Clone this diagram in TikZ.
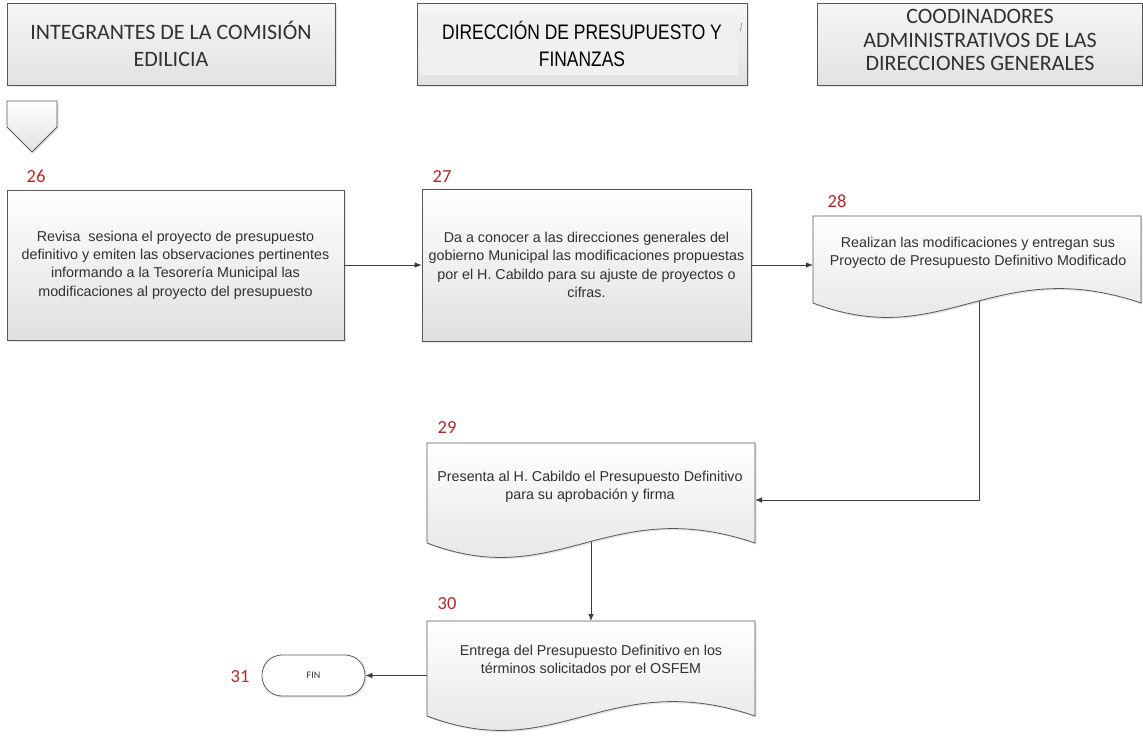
\documentclass[tikz,border=0pt]{standalone}
\usepackage{fontspec}
\setmainfont{Liberation Sans}
\newfontfamily\calfont{Carlito}
\newfontfamily\narrowfont[FakeStretch=0.83]{Liberation Sans}
\usetikzlibrary{arrows.meta,shadows}

\definecolor{stepred}{RGB}{176,42,42}
\definecolor{edge}{RGB}{88,88,88}
\definecolor{wire}{RGB}{60,60,60}
\definecolor{txt}{RGB}{48,48,48}
\definecolor{boxbot}{RGB}{224,224,224}
\definecolor{hdrtop}{RGB}{246,246,246}
\definecolor{hdrbot}{RGB}{226,226,226}
\definecolor{hdrinner}{RGB}{240,240,240}

\tikzset{
  softshadow/.style={drop shadow={shadow xshift=1.6pt,shadow yshift=-1.6pt,opacity=0.22}},
  lane/.style={draw=edge, line width=0.9pt, top color=hdrtop, bottom color=hdrbot,
    softshadow, inner sep=0pt, align=center},
  procbox/.style={draw=edge, line width=0.8pt, top color=white, bottom color=boxbot,
    softshadow, inner sep=0pt, align=center, text=txt,
    font=\fontsize{14.3}{18.3}\selectfont},
  docshape/.style={draw=edge, line width=0.8pt, top color=white, bottom color=boxbot,
    softshadow},
  doctext/.style={align=center, text=txt, inner sep=0pt,
    font=\fontsize{14.3}{18.3}\selectfont},
  stepnum/.style={text=stepred, inner sep=0pt, font=\calfont\fontsize{18.5}{20}\selectfont},
  flow/.style={draw=wire, line width=0.8pt, -{Latex[length=7pt,width=5.5pt]}},
  terminal/.style={draw=edge, line width=0.8pt, fill=white, rounded corners=20pt,
    minimum width=103pt, minimum height=41pt, softshadow, text=txt,
    font=\calfont\fontsize{10}{12}\selectfont}
}

\begin{document}
\begin{tikzpicture}[x=1pt, y=-1pt]
  \useasboundingbox (0,0) rectangle (1143,740);
  \fill[white] (0,0) rectangle (1143,740);

  % swimlane headers
  \node[lane, minimum width=328pt, minimum height=82pt, text=txt,
        font=\calfont\fontsize{22}{27}\selectfont] (h1) at (171,44)
        {INTEGRANTES DE LA COMISIÓN\\EDILICIA};
  \node[lane, minimum width=330pt, minimum height=82pt, text=black,
        font=\narrowfont\fontsize{21}{27}\selectfont,
        path picture={\fill[hdrinner]
          ([shift={(3,11)}]path picture bounding box.north west) rectangle
          ([shift={(-9,-10)}]path picture bounding box.south east);}]
        (h2) at (582,44) {DIRECCIÓN DE PRESUPUESTO Y\\FINANZAS};
  \draw[gray, line width=0.6pt] (741.5,23) -- (740.5,31);
  \node[lane, minimum width=325pt, minimum height=82pt, text=txt,
        font=\calfont\fontsize{22}{23.7}\selectfont,
        text depth=0pt] (h3) at (979.5,44) {};
  \node[text=txt, align=center, inner sep=0pt,
        font=\calfont\fontsize{22}{23.7}\selectfont] (h3text) at (980,40)
        {COODINADORES\\ADMINISTRATIVOS DE LAS\\DIRECCIONES GENERALES};

  % off-page connector
  \path[draw=edge, line width=0.8pt, top color=white, bottom color=hdrbot, softshadow]
    (7,101) -- (57,101) -- (57,127) -- (32,152) -- (7,127) -- cycle;

  % step numbers
  \node[stepnum] (n26) at (36,176) {26};
  \node[stepnum] (n27) at (442,176) {27};
  \node[stepnum] (n28) at (837,201) {28};
  \node[stepnum] (n29) at (447,427) {29};
  \node[stepnum] (n30) at (447,604) {30};
  \node[stepnum] (n31) at (240,677) {31};

  % process boxes
  \node[procbox, minimum width=337pt, minimum height=150pt] (b26) at (175.5,265)
    {Revisa\ \ sesiona el proyecto de presupuesto\\
     definitivo y emiten las observaciones pertinentes\\
     informando a la Tesorería Municipal las\\
     modificaciones al proyecto del presupuesto};
  \node[procbox, minimum width=329pt, minimum height=152pt] (b27) at (586.5,265)
    {Da a conocer a las direcciones generales del\\
     gobierno Municipal las modificaciones propuestas\\
     por el H. Cabildo para su ajuste de proyectos o\\
     cifras.};

  % terminal
  \node[terminal] (fin) at (313.5,675.5) {FIN};

  % anchor points on the document shapes
  \coordinate (d28w) at (813,265);
  \coordinate (d28s) at (979,296);
  \coordinate (d29e) at (755,500);
  \coordinate (d29s) at (591,536);
  \coordinate (d30n) at (591,621);
  \coordinate (d30w) at (427,675.5);

  % connectors (drawn below the document shapes)
  \draw[flow] (b26.east) -- (b27.west);
  \draw[flow] (b27.east) -- (d28w);
  \draw[flow] (d28s) |- (d29e);
  \draw[flow] (d29s) -- (d30n);
  \draw[flow] (d30w) -- (fin.east);

  % document shapes
  \path[docshape] (813,216) -- (1141,216) -- (1141,303)
    .. controls (993.4,253) and (944.2,353) .. (813,303) -- cycle;
  \path[docshape] (427,443) -- (755,443) -- (755,543)
    .. controls (607.4,493) and (558.2,593) .. (427,543) -- cycle;
  \path[docshape] (427,621) -- (755,621) -- (755,716)
    .. controls (607.4,666) and (558.2,766) .. (427,716) -- cycle;

  \node[doctext] (t28) at (978,253)
    {Realizan las modificaciones y entregan sus\\
     Proyecto de Presupuesto Definitivo Modificado};
  \node[doctext] (t29) at (590,487)
    {Presenta al H. Cabildo el Presupuesto Definitivo\\
     para su aprobación y firma};
  \node[doctext] (t30) at (591,661)
    {Entrega del Presupuesto Definitivo en los\\
     términos solicitados por el OSFEM};
\end{tikzpicture}
\end{document}
